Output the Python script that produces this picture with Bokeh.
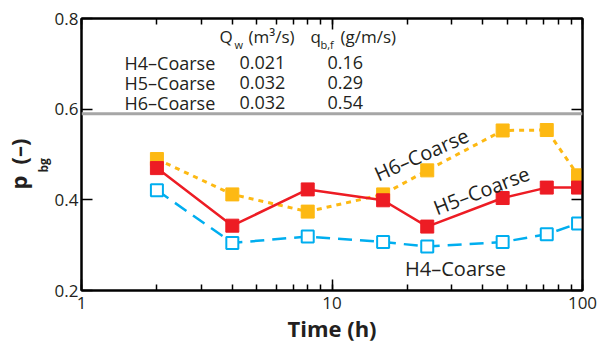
import numpy as np
from bokeh.plotting import figure
from bokeh.models import (LogAxis, LinearAxis, FixedTicker, LogTicker, Label, Span,
                          Range1d, Title, BasicTickFormatter)
from bokeh.embed import file_html
from bokeh.resources import INLINE

# ---------------- data ----------------
time_h = [2, 4, 8, 16, 24, 48, 72, 96]
h4_coarse = [0.421, 0.305, 0.319, 0.307, 0.297, 0.307, 0.324, 0.348]
h5_coarse = [0.470, 0.343, 0.423, 0.399, 0.341, 0.404, 0.427, 0.427]
h6_coarse = [0.490, 0.412, 0.374, 0.412, 0.465, 0.553, 0.554, 0.454]
threshold = 0.59

run_names = ["H4\u2013Coarse", "H5\u2013Coarse", "H6\u2013Coarse"]
qw_vals = ["0.021", "0.032", "0.032"]
qbf_vals = ["0.16", "0.29", "0.54"]

y_ticks = [0.2, 0.4, 0.6, 0.8]

FONT = "Open Sans"
TXT = "#231F20"
RED = "#ED1C24"
ORANGE = "#FDB913"
BLUE = "#00AEEF"

FL, FT = 81, 18          # frame left / top in page coords
FW, FH = 501, 272        # frame size
FB = FT + FH

p = figure(frame_width=FW, frame_height=FH, output_backend="svg", toolbar_location=None,
           x_axis_type="log", x_range=Range1d(1, 100), y_range=Range1d(0.2, 0.8),
           min_border_left=0, min_border_right=15,
           min_border_top=FT, min_border_bottom=66)
p.grid.visible = False
p.outline_line_color = "black"
p.outline_line_width = 2
p.background_fill_color = "white"
p.border_fill_color = "white"

def style_axis(ax, labels=True):
    ax.axis_line_width = 2
    ax.axis_line_color = "black"
    ax.major_tick_in = 11
    ax.major_tick_out = 0
    ax.minor_tick_in = 6
    ax.minor_tick_out = 0
    ax.major_tick_line_width = 1.5
    ax.minor_tick_line_width = 1.5
    ax.major_label_text_font = FONT
    ax.major_label_text_font_size = "17px"
    ax.major_label_text_color = TXT
    ax.major_label_standoff = 3
    if not labels:
        ax.major_label_text_font_size = "0px"
        ax.major_label_text_alpha = 0
        ax.major_label_standoff = 0

xb = p.xaxis[0]
xb.ticker = LogTicker(num_minor_ticks=10)
xb.formatter = BasicTickFormatter()
style_axis(xb)
xb.major_label_standoff = 6
xb.axis_label = "Time (h)"
xb.axis_label_text_font = FONT
xb.axis_label_text_font_style = "bold"
xb.axis_label_text_font_size = "22px"
xb.axis_label_standoff = 1
xb.axis_label_text_color = TXT

yl = p.yaxis[0]
yl.ticker = FixedTicker(ticks=y_ticks, minor_ticks=[])
style_axis(yl)

xt = LogAxis(ticker=LogTicker(num_minor_ticks=10))
style_axis(xt, labels=False)
p.add_layout(xt, "above")
yr = LinearAxis(ticker=FixedTicker(ticks=y_ticks, minor_ticks=[]))
style_axis(yr, labels=False)
p.add_layout(yr, "right")

# y-axis label built from side titles (subscript in its own column)
t_bg = Title(text="bg", align="left", offset=118, text_font=FONT, text_font_size="12px",
             text_font_style="bold", text_color=TXT, standoff=0)
p.add_layout(t_bg, "left")
t_p = Title(text="p\u2002(\u2013)", align="left", offset=101, text_font=FONT,
            text_font_size="22px", text_font_style="bold", text_color=TXT, standoff=0)
p.add_layout(t_p, "left")

# threshold line
p.add_layout(Span(location=threshold, dimension="width", line_color="#A6A6A6", line_width=3))

# series
p.line(time_h, h6_coarse, line_color=ORANGE, line_width=3, line_dash="5 5")
p.scatter(time_h, h6_coarse, marker="square", size=13, fill_color=ORANGE, line_color=ORANGE)
p.line(time_h, h5_coarse, line_color=RED, line_width=2.5)
p.scatter(time_h, h5_coarse, marker="square", size=13, fill_color=RED, line_color=RED)
p.line(time_h, h4_coarse, line_color=BLUE, line_width=2.5, line_dash="14 8")
p.scatter(time_h, h4_coarse, marker="square", size=12, fill_color="white", line_color=BLUE,
          line_width=2)

def lab(text, px, py, size="18px", style="normal", align="left", angle=0, color=TXT):
    p.add_layout(Label(x=px - FL, y=FB - py, x_units="screen", y_units="screen", text=text,
                       text_font=FONT, text_font_size=size, text_font_style=style,
                       text_align=align, text_baseline="middle", angle=angle,
                       text_color=color))

# series labels
lab("H6\u2013Coarse", 421, 154, size="20px", align="center", angle=np.deg2rad(24))
lab("H5\u2013Coarse", 481, 190, size="20px", align="center", angle=np.deg2rad(21))
lab("H4\u2013Coarse", 455, 268, size="20px", align="center")

# table header
lab("Q", 219, 36, size="17px")
lab("w", 234, 44, size="11px")
lab("(m\u00b3/s)", 248, 36, size="17px")
lab("q", 310, 36, size="17px")
lab("b,f", 320, 44, size="11px")
lab("(g/m/s)", 340, 36, size="17px")

rows_y = [62, 82, 102]
for name, qw, qb, ry in zip(run_names, qw_vals, qbf_vals, rows_y):
    lab(name, 124, ry)
    lab(qw, 239, ry)
    lab(qb, 327, ry)

open("out.html", "w").write(file_html(p, INLINE))
